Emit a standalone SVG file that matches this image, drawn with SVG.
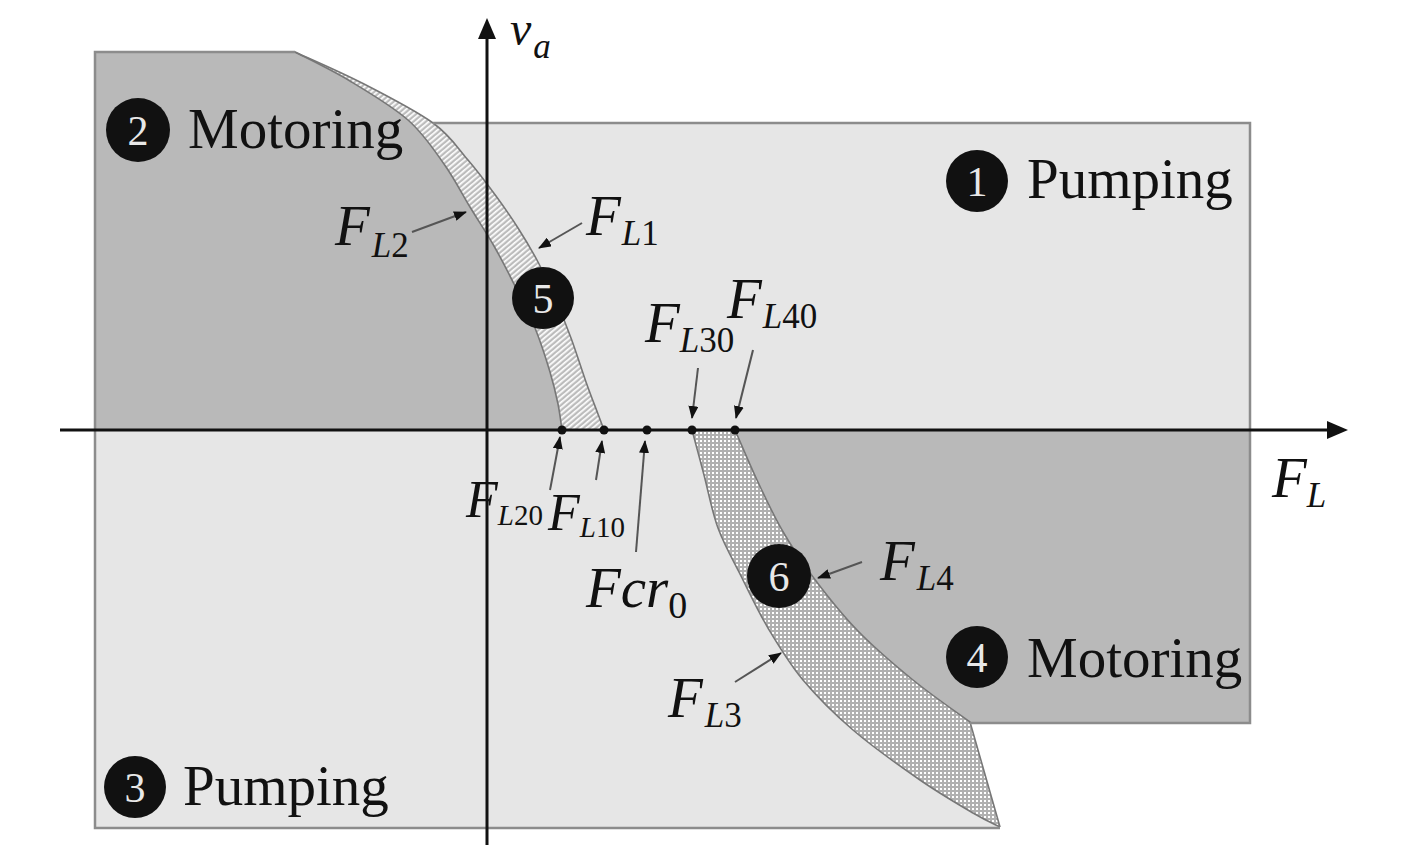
<svg xmlns="http://www.w3.org/2000/svg" width="1417" height="850" viewBox="0 0 1417 850">
<style>
.light{fill:#e6e6e6}
.dark{fill:#b9b9b9}
.border{fill:none;stroke:#8c8c8c;stroke-width:2.5}
.edge{fill:none;stroke:#777;stroke-width:1.6}
.axis{stroke:#111;stroke-width:3;fill:none}
.head{fill:#111}
.arr{stroke:#555;stroke-width:2;fill:none;marker-end:url(#ah)}
.dot{fill:#111}
.badge{fill:#111}
.num{font-family:"Liberation Serif","Times New Roman",serif;font-size:42px;fill:#e8e8e8;text-anchor:middle}
.reg{font-family:"Liberation Serif","Times New Roman",serif;font-size:57px;fill:#111}
.m{font-family:"Liberation Serif","Times New Roman",serif;font-style:italic;font-size:57px;fill:#111}
.sb{font-size:35px}
.u{font-style:normal}
</style>
<defs>
<pattern id="hatch5" width="4" height="4" patternUnits="userSpaceOnUse" patternTransform="rotate(-40)"><rect width="4" height="4" fill="#bcbcbc"/><rect width="4" height="1.7" fill="#ffffff"/></pattern>
<pattern id="check6" width="4" height="4" patternUnits="userSpaceOnUse"><rect width="4" height="4" fill="#b0b0b0"/><rect width="2" height="2" fill="#ffffff"/></pattern>
<marker id="ah" markerWidth="13" markerHeight="10" refX="12" refY="5" orient="auto" markerUnits="userSpaceOnUse"><path d="M0,0 L13,5 L0,10 Z" fill="#111"/></marker>
</defs>

<g id="region-1">
<path class="light" d="M433,123 L1250,123 L1250,430 L604,430 C603,427.3 601,422 598,414 C595,406 590.5,394.7 586,382 C581.5,369.3 576.2,352 571,338 C565.8,324 560.5,310.7 555,298 C549.5,285.3 544.2,273.7 538,262 C531.8,250.3 525,239 518,228 C511,217 504.3,207.3 496,196 C487.7,184.7 478.5,172.2 468,160 C457.5,147.8 450.7,135.8 433,123 Z"/>
</g>
<g id="region-3">
<path class="light" d="M95,430 L692,430 C694,437.5 699.7,458.7 704,475 C708.3,491.3 711.7,510.8 718,528 C724.3,545.2 733.7,561.3 742,578 C750.3,594.7 757.8,611 768,628 C778.2,645 788.8,663 803,680 C817.2,697 833.5,713.3 853,730 C872.5,746.7 900,766.2 920,780 C940,793.8 959.7,805.2 973,813 C986.3,820.8 995.5,824.7 1000,828 L95,828 Z"/>
</g>
<g id="region-2">
<path class="dark" d="M95,52 L295,52 C304.2,56.8 331.2,69.7 350,81 C368.8,92.3 392.3,106.2 408,120 C423.7,133.8 433.7,149.5 444,164 C454.3,178.5 461.7,193.3 470,207 C478.3,220.7 486.3,232.5 494,246 C501.7,259.5 509.2,274.3 516,288 C522.8,301.7 529.3,314 535,328 C540.7,342 546.2,359.3 550,372 C553.8,384.7 556,394.3 558,404 C560,413.7 561.3,425.7 562,430 L95,430 Z"/>
</g>
<g id="region-4">
<path class="dark" d="M735,430 L1250,430 L1250,723 L970,723 C960.5,715 931.8,695.3 913,680 C894.2,664.7 873.7,647.2 857,630 C840.3,612.8 825.5,593.7 813,577 C800.5,560.3 791.3,546.2 782,530 C772.7,513.8 764.8,496.7 757,480 C749.2,463.3 738.7,438.3 735,430 Z"/>
</g>
<g id="band-5">
<path fill="url(#hatch5)" d="M295,52 C306.2,57.2 339,71.2 362,83 C385,94.8 415.3,110.2 433,123 C450.7,135.8 457.5,147.8 468,160 C478.5,172.2 487.7,184.7 496,196 C504.3,207.3 511,217 518,228 C525,239 531.8,250.3 538,262 C544.2,273.7 549.5,285.3 555,298 C560.5,310.7 565.8,324 571,338 C576.2,352 581.5,369.3 586,382 C590.5,394.7 595,406 598,414 C601,422 603,427.3 604,430 L562,430 C561.3,425.7 560,413.7 558,404 C556,394.3 553.8,384.7 550,372 C546.2,359.3 540.7,342 535,328 C529.3,314 522.8,301.7 516,288 C509.2,274.3 501.7,259.5 494,246 C486.3,232.5 478.3,220.7 470,207 C461.7,193.3 454.3,178.5 444,164 C433.7,149.5 423.7,133.8 408,120 C392.3,106.2 368.8,92.3 350,81 C331.2,69.7 304.2,56.8 295,52 Z"/>
<path class="edge" d="M295,52 C306.2,57.2 339,71.2 362,83 C385,94.8 415.3,110.2 433,123 C450.7,135.8 457.5,147.8 468,160 C478.5,172.2 487.7,184.7 496,196 C504.3,207.3 511,217 518,228 C525,239 531.8,250.3 538,262 C544.2,273.7 549.5,285.3 555,298 C560.5,310.7 565.8,324 571,338 C576.2,352 581.5,369.3 586,382 C590.5,394.7 595,406 598,414 C601,422 603,427.3 604,430"/>
<path class="edge" d="M295,52 C304.2,56.8 331.2,69.7 350,81 C368.8,92.3 392.3,106.2 408,120 C423.7,133.8 433.7,149.5 444,164 C454.3,178.5 461.7,193.3 470,207 C478.3,220.7 486.3,232.5 494,246 C501.7,259.5 509.2,274.3 516,288 C522.8,301.7 529.3,314 535,328 C540.7,342 546.2,359.3 550,372 C553.8,384.7 556,394.3 558,404 C560,413.7 561.3,425.7 562,430"/>
</g>
<g id="band-6">
<path fill="url(#check6)" d="M692,430 L735,430 C738.7,438.3 749.2,463.3 757,480 C764.8,496.7 772.7,513.8 782,530 C791.3,546.2 800.5,560.3 813,577 C825.5,593.7 840.3,612.8 857,630 C873.7,647.2 894.2,664.7 913,680 C931.8,695.3 960.5,715 970,722 L1000,827 C995.5,824.7 986.3,820.8 973,813 C959.7,805.2 940,793.8 920,780 C900,766.2 872.5,746.7 853,730 C833.5,713.3 817.2,697 803,680 C788.8,663 778.2,645 768,628 C757.8,611 750.3,594.7 742,578 C733.7,561.3 724.3,545.2 718,528 C711.7,510.8 708.3,491.3 704,475 C699.7,458.7 694,437.5 692,430 Z"/>
<path class="edge" d="M735,430 C738.7,438.3 749.2,463.3 757,480 C764.8,496.7 772.7,513.8 782,530 C791.3,546.2 800.5,560.3 813,577 C825.5,593.7 840.3,612.8 857,630 C873.7,647.2 894.2,664.7 913,680 C931.8,695.3 960.5,715 970,722 L1000,827"/>
<path class="edge" d="M692,430 C694,437.5 699.7,458.7 704,475 C708.3,491.3 711.7,510.8 718,528 C724.3,545.2 733.7,561.3 742,578 C750.3,594.7 757.8,611 768,628 C778.2,645 788.8,663 803,680 C817.2,697 833.5,713.3 853,730 C872.5,746.7 900,766.2 920,780 C940,793.8 959.7,805.2 973,813 C986.3,820.8 995.5,824.7 1000,827"/>
</g>
<g id="borders">
<polyline class="border" points="295,52 95,52 95,828 1000,828"/>
<polyline class="border" points="433,123 1250,123 1250,723 970,723"/>
</g>

<g id="axes">
<line class="axis" x1="487" y1="845" x2="487" y2="34"/>
<polygon class="head" points="487,18 478,39 496,39"/>
<line class="axis" x1="60" y1="430" x2="1330" y2="430"/>
<polygon class="head" points="1348,430 1327,421 1327,439"/>
<circle class="dot" cx="562" cy="430" r="4.5"/>
<circle class="dot" cx="604" cy="430" r="4.5"/>
<circle class="dot" cx="647" cy="430" r="4.5"/>
<circle class="dot" cx="692" cy="430" r="4.5"/>
<circle class="dot" cx="735" cy="430" r="4.5"/>
<text class="m" x="510" y="45" style="font-size:48px">v<tspan class="sb" dx="2" dy="13">a</tspan></text>
<text class="m" x="1272" y="497">F<tspan class="sb" dx="0" dy="10">L</tspan></text>
</g>

<g id="connectors">
<line class="arr" x1="412" y1="232" x2="466" y2="212"/>
<line class="arr" x1="582" y1="223" x2="539" y2="248"/>
<line class="arr" x1="698" y1="368" x2="692" y2="418"/>
<line class="arr" x1="753" y1="350" x2="736" y2="418"/>
<line class="arr" x1="550" y1="490" x2="560" y2="437"/>
<line class="arr" x1="596" y1="480" x2="602" y2="441"/>
<line class="arr" x1="636" y1="552" x2="645" y2="441"/>
<line class="arr" x1="862" y1="562" x2="818" y2="578"/>
<line class="arr" x1="735" y1="682" x2="781" y2="653"/>
</g>

<g id="label-1"><circle class="badge" cx="977" cy="181" r="31"/><text class="num" x="977" y="196">1</text><text class="reg" x="1027" y="198">Pumping</text></g>
<g id="label-2"><circle class="badge" cx="138" cy="130" r="32"/><text class="num" x="138" y="145">2</text><text class="reg" x="188" y="148">Motoring</text></g>
<g id="label-3"><circle class="badge" cx="135" cy="787" r="31"/><text class="num" x="135" y="802">3</text><text class="reg" x="183" y="805">Pumping</text></g>
<g id="label-4"><circle class="badge" cx="977" cy="657" r="31"/><text class="num" x="977" y="672">4</text><text class="reg" x="1027" y="677">Motoring</text></g>
<g id="label-5"><circle class="badge" cx="543" cy="298" r="31"/><text class="num" x="543" y="313">5</text></g>
<g id="label-6"><circle class="badge" cx="779" cy="576" r="32"/><text class="num" x="779" y="591">6</text></g>

<g id="math-labels">
<text class="m" x="335" y="245">F<tspan class="sb" dx="2" dy="12">L</tspan><tspan class="sb u">2</tspan></text>
<text class="m" x="586" y="235">F<tspan class="sb" dx="1" dy="10">L</tspan><tspan class="sb u">1</tspan></text>
<text class="m" x="645" y="342">F<tspan class="sb" dy="10">L</tspan><tspan class="sb u">30</tspan></text>
<text class="m" x="727" y="318">F<tspan class="sb" dx="1" dy="10">L</tspan><tspan class="sb u">40</tspan></text>
<text class="m" x="466" y="517" style="font-size:52px">F<tspan class="sb" style="font-size:29px" dy="8">L</tspan><tspan class="u" style="font-size:29px">20</tspan></text>
<text class="m" x="548" y="530" style="font-size:52px">F<tspan class="sb" style="font-size:29px" dy="7">L</tspan><tspan class="u" style="font-size:29px">10</tspan></text>
<text class="m" x="586" y="607">Fcr<tspan class="u" style="font-size:38px" dy="11">0</tspan></text>
<text class="m" x="880" y="580">F<tspan class="sb" dx="2" dy="10">L</tspan><tspan class="sb u">4</tspan></text>
<text class="m" x="668" y="717">F<tspan class="sb" dx="2" dy="10">L</tspan><tspan class="sb u">3</tspan></text>
</g>
</svg>
